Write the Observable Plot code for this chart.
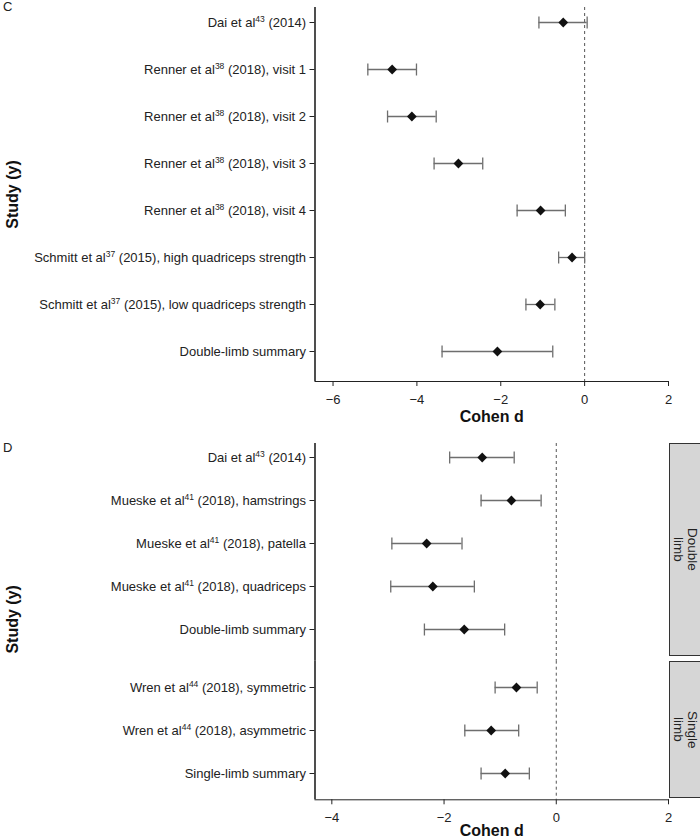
<!DOCTYPE html>
<html>
<head>
<meta charset="utf-8">
<script src="https://cdn.jsdelivr.net/npm/d3@7"></script>
<script src="https://cdn.jsdelivr.net/npm/@observablehq/plot@0.6"></script>
<style>
  html, body { margin: 0; padding: 0; background: #fff; }
  #wrap { position: relative; width: 700px; height: 839px; overflow: hidden; font-family: "Liberation Sans", Arial, sans-serif; color: #222; }
  .pane { position: absolute; left: 0; }
  .tag { position: absolute; font-size: 13px; line-height: 13px; color: #222; }
  .strip { position: absolute; left: 669px; width: 32px; box-sizing: border-box; background: #d6d6d6; border: 1.5px solid #333;
           writing-mode: vertical-rl; display: flex; align-items: center; justify-content: center; text-align: center;
           font-size: 13.5px; line-height: 14px; color: #222; }
</style>
</head>
<body>
<div id="wrap"></div>
<script>
// ---------- Panel C data ----------
const studiesC = [
  "Dai et al{43} (2014)",
  "Renner et al{38} (2018), visit 1",
  "Renner et al{38} (2018), visit 2",
  "Renner et al{38} (2018), visit 3",
  "Renner et al{38} (2018), visit 4",
  "Schmitt et al{37} (2015), high quadriceps strength",
  "Schmitt et al{37} (2015), low quadriceps strength",
  "Double-limb summary"
];
const estC  = [-0.51, -4.59, -4.12, -3.01, -1.05, -0.30, -1.06, -2.08];
const lowC  = [-1.09, -5.17, -4.70, -3.59, -1.61, -0.62, -1.40, -3.40];
const highC = [ 0.06, -4.01, -3.54, -2.43, -0.46,  0.00, -0.71, -0.76];
const ticksC = [-6, -4, -2, 0, 2];
const domainC = [-6.43, 2];

// ---------- Panel D data ----------
const studiesD = [
  "Dai et al{43} (2014)",
  "Mueske et al{41} (2018), hamstrings",
  "Mueske et al{41} (2018), patella",
  "Mueske et al{41} (2018), quadriceps",
  "Double-limb summary",
  "Wren et al{44} (2018), symmetric",
  "Wren et al{44} (2018), asymmetric",
  "Single-limb summary"
];
const groupD = ["Double limb", "Double limb", "Double limb", "Double limb", "Double limb",
                "Single limb", "Single limb", "Single limb"];
const estD  = [-1.32, -0.80, -2.31, -2.20, -1.64, -0.71, -1.16, -0.91];
const lowD  = [-1.90, -1.34, -2.93, -2.95, -2.35, -1.09, -1.63, -1.34];
const highD = [-0.75, -0.27, -1.68, -1.46, -0.92, -0.34, -0.67, -0.48];
const ticksD = [-4, -2, 0, 2];
const domainD = [-4.3, 2];
const facetLabels = {"Double limb": "Double<br>limb", "Single limb": "Single<br>limb"};

const rowsC = studiesC.map((s, i) => ({label: s, est: estC[i], lo: lowC[i], hi: highC[i]}));
const rowsD = studiesD.map((s, i) => ({label: s, group: groupD[i], est: estD[i], lo: lowD[i], hi: highD[i]}));

const capSymbol = {
  draw(ctx, size) { const h = Math.sqrt(size / Math.PI); ctx.moveTo(0, -h); ctx.lineTo(0, h); }
};

function supify(svg) {
  const ns = "http://www.w3.org/2000/svg";
  svg.querySelectorAll("text").forEach(t => {
    const s = t.textContent;
    const m = s.match(/^(.*?)\{(\d+)\}(.*)$/);
    if (!m) return;
    t.textContent = "";
    const a = document.createElementNS(ns, "tspan"); a.textContent = m[1];
    const b = document.createElementNS(ns, "tspan"); b.textContent = m[2];
    b.setAttribute("dy", "-4.5"); b.setAttribute("font-size", "8.5");
    const c = document.createElementNS(ns, "tspan"); c.textContent = m[3];
    c.setAttribute("dy", "4.5");
    t.append(a, b, c);
  });
}

function panel({rows, domain, ticks, top, height, marginTop, marginBottom, insetTop, insetBottom, xTitleDy, yTitleDy}) {
  const showX = xTitleDy !== undefined;
  const marks = [
    Plot.ruleX([domain[0]], {stroke: "#222", strokeWidth: 1.6}),
    Plot.ruleX([0], {stroke: "#555", strokeWidth: 1, strokeDasharray: "3,3"}),
    Plot.ruleY(rows, {y: "label", x1: "lo", x2: "hi", stroke: "#6e6e6e", strokeWidth: 1.3}),
    Plot.dot(rows, {x: "lo", y: "label", symbol: capSymbol, r: 6, fill: "none", stroke: "#6e6e6e", strokeWidth: 1.3}),
    Plot.dot(rows, {x: "hi", y: "label", symbol: capSymbol, r: 6, fill: "none", stroke: "#6e6e6e", strokeWidth: 1.3}),
    Plot.dot(rows, {x: "est", y: "label", symbol: "diamond2", r: 4.4, fill: "#111", stroke: "none"})
  ];
  if (showX) marks.push(Plot.text(["Cohen d"], {text: d => d, frameAnchor: "bottom", lineAnchor: "middle", textAnchor: "middle",
                                                dy: xTitleDy, fontSize: 16, fontWeight: "bold", fill: "#111"}));
  if (yTitleDy !== undefined) marks.push(Plot.text(["Study (y)"], {text: d => d, frameAnchor: "left", textAnchor: "middle", lineAnchor: "middle",
                                                dx: -302, dy: yTitleDy, rotate: -90, fontSize: 16, fontWeight: "bold", fill: "#111"}));
  const svg = Plot.plot({
    width: 700, height,
    marginLeft: 314.5, marginRight: 32, marginTop, marginBottom,
    style: {fontFamily: "'Liberation Sans', Arial, sans-serif", fontSize: "13px", color: "#222", background: "transparent", overflow: "visible"},
    x: {domain, ticks, tickFormat: d => d < 0 ? "\u2212" + Math.abs(d) : String(d), axis: showX ? "bottom" : null,
        line: true, tickSize: 5, tickPadding: 8, label: null},
    y: {type: "point", domain: rows.map(d => d.label), padding: 0, insetTop, insetBottom, tickSize: 5, tickPadding: 4, label: null},
    marks
  });
  supify(svg);
  svg.querySelectorAll("path.domain").forEach(p => p.setAttribute("stroke-width", 1.6));
  const div = document.createElement("div");
  div.className = "pane"; div.style.top = top + "px";
  div.appendChild(svg);
  document.getElementById("wrap").appendChild(div);
}

// Panel C
panel({rows: rowsC, domain: domainC, ticks: ticksC, top: 0, height: 430, marginTop: 7, marginBottom: 49,
       insetTop: 13.7, insetBottom: 28.3, xTitleDy: 35, yTitleDy: 0});
// Panel D, facet "Double limb"
panel({rows: rowsD.filter(d => d.group === "Double limb"), domain: domainD, ticks: ticksD, top: 430, height: 240,
       marginTop: 13, marginBottom: 240 + 430 - 660.7, insetTop: 13, insetBottom: 30, yTitleDy: 67});
// Panel D, facet "Single limb"
panel({rows: rowsD.filter(d => d.group === "Single limb"), domain: domainD, ticks: ticksD, top: 640, height: 199,
       marginTop: 20.7, marginBottom: 39.7, insetTop: 26, insetBottom: 26, xTitleDy: 31});

// facet strips
const wrap = document.getElementById("wrap");
[["Double limb", 442.7, 656.3], ["Single limb", 660.7, 798.5]].forEach(([g, y0, y1]) => {
  const s = document.createElement("div");
  s.className = "strip"; s.style.top = y0 + "px"; s.style.height = (y1 - y0) + "px";
  s.innerHTML = facetLabels[g];
  wrap.appendChild(s);
});
// panel tags
[["C", 0], ["D", 441]].forEach(([t, y]) => {
  const d = document.createElement("div");
  d.className = "tag"; d.style.left = "3px"; d.style.top = y + "px"; d.textContent = t;
  wrap.appendChild(d);
});
</script>
</body>
</html>
